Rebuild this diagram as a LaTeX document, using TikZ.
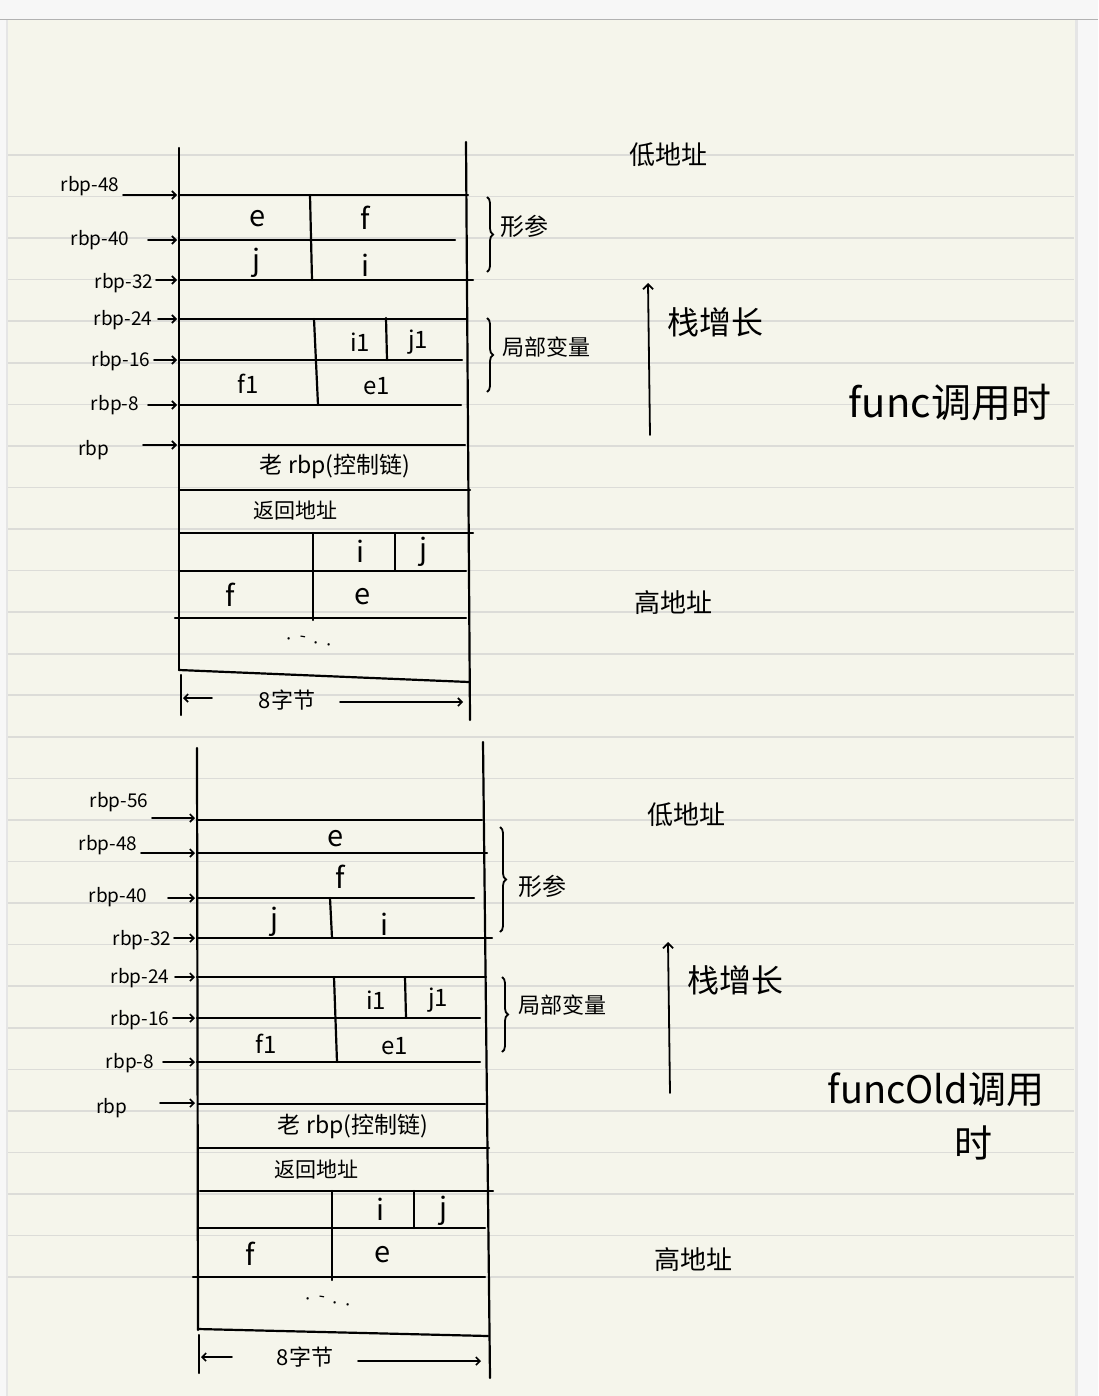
\documentclass[tikz,border=0pt]{standalone}
\usepackage{fontspec}
\setmainfont{Noto Sans CJK SC}
\usetikzlibrary{arrows.meta,decorations.pathreplacing}
\definecolor{paper}{HTML}{F5F5EB}
\definecolor{rulec}{HTML}{DCDCD8}
\definecolor{outside}{HTML}{F7F7F7}
\newcommand\myfs[1]{\fontsize{#1}{#1}\selectfont}
\tikzset{
  stk/.style={line width=2.2pt, black, line cap=round},
  rulel/.style={line width=1.6pt, rulec},
  arr/.style={line width=1.6pt, black, line cap=round, -{Straight Barb[length=4pt,width=8pt]}},
  cell/.style={inner sep=0pt, font=\myfs{29}},
  sub/.style={inner sep=0pt, font=\myfs{24}},
  rbpl/.style={inner sep=0pt, font=\myfs{19}},
  zh/.style={inner sep=0pt, font=\myfs{22}},
  brc/.style={line width=1.8pt, black, decorate, decoration={brace, amplitude=6pt}},
}
\begin{document}
\begin{tikzpicture}[x=1pt,y=-1pt]
\useasboundingbox (0,0) rectangle (1098,1396);
% page
\fill[outside] (0,0) rectangle (1098,1396);
\fill[paper] (8,20) rectangle (1075,1396);
\draw[line width=1.2pt, black!30] (0,19.5) -- (1098,19.5);
\draw[line width=2pt, black!10] (7,20) -- (7,1396);
\draw[line width=3pt, black!10] (1076.5,20) -- (1076.5,1396);
\foreach \k in {0,...,27} \draw[rulel] (8,{155+41.56*\k}) -- (1074,{155+41.56*\k});

% ================= diagram 1 =================
\draw[stk] (179,148) -- (179,670);
\draw[stk] (466,142) -- (470,720);
\draw[stk] (179,195) -- (468,195);
\draw[stk] (179,240) -- (455,240);
\draw[stk] (179,280) -- (473,280);
\draw[stk] (179,319) -- (467,319);
\draw[stk] (179,360) -- (462,360);
\draw[stk] (179,405) -- (461,405);
\draw[stk] (179,445) -- (465,445);
\draw[stk] (179,490) -- (470,490);
\draw[stk] (180,533) -- (473,533);
\draw[stk] (179,571) -- (466,571);
\draw[stk] (175,618) -- (466,618);
\draw[stk] (179,670) -- (469,682);
\draw[stk] (310,195) -- (312,280);
\draw[stk] (314,319) -- (318,405);
\draw[stk] (386,318) -- (387,360);
\draw[stk] (313,533) -- (313,620);
\draw[stk] (395,533) -- (395,570);
\draw[stk] (181,675) -- (181,715);

\node[cell] (a1e) at (258,219) {e};
\node[cell] (a1f) at (365,218) {f};
\node[cell] (a1j) at (256,263) {j};
\node[cell] (a1i) at (365,265) {i};
\node[sub] (a1i1) at (360,342) {i1};
\node[sub] (a1j1) at (418,342) {j1};
\node[sub] (a1f1) at (248,384) {f1};
\node[sub] (a1e1) at (377,386) {e1};
\node[zh, font=\myfs{23}] (a1old) at (335,466) {老 rbp(控制链)};
\node[zh, font=\myfs{21}] (a1ret) at (295,511) {返回地址};
\node[cell] (a1i2) at (360,551) {i};
\node[cell] (a1j2) at (423,552) {j};
\node[cell] (a1f2) at (230,595) {f};
\node[cell] (a1e2) at (363,597) {e};
\node[inner sep=0pt, font=\myfs{18}, rotate=-8] (a1dots) at (309,640) {.\ \ -\ \ .\ \ .};

\node[zh, font=\myfs{22}] (a1w) at (287,700) {8字节};
\coordinate (a1wl1) at (212,698); \coordinate (a1wl2) at (183,698);
\coordinate (a1wr1) at (340,702); \coordinate (a1wr2) at (463,702);
\draw[arr] (a1wl1) -- (a1wl2);
\draw[arr] (a1wr1) -- (a1wr2);

\foreach \n/\t/\tx/\ty/\sx/\ay in {48/rbp-48/90/186/123/195, 40/rbp-40/100/240/148/240, 32/rbp-32/124/283/156/280, 24/rbp-24/123/320/158/319, 16/rbp-16/121/361/154/360, 8/rbp-8/115/405/148/405, 0/rbp/94/450/143/445}{
  \node[rbpl] (p1l\n) at (\tx,\ty) {\t};
  \coordinate (p1s\n) at (\sx,\ay);
  \coordinate (p1e\n) at (177,\ay);
  \draw[arr] (p1s\n) -- (p1e\n);
}

\draw[brc] (487,197) -- (487,272);
\draw[brc] (487,318) -- (487,392);
\node[zh, font=\myfs{24}] (a1xc) at (524,226) {形参};
\node[zh, font=\myfs{22}] (a1jb) at (546,347) {局部变量};

\node[zh, font=\myfs{26}] (a1low) at (668,155) {低地址};
\coordinate (a1g1) at (650,435); \coordinate (a1g2) at (648,283);
\draw[arr, line width=1.8pt, -{Straight Barb[length=5pt,width=10pt]}] (a1g1) -- (a1g2);
\node[zh, font=\myfs{32}] (a1grow) at (715,322) {栈增长};
\node[zh, font=\myfs{40}] (a1title) at (950,402) {func调用时};
\node[zh, font=\myfs{26}] (a1high) at (673,603) {高地址};

% ================= diagram 2 =================
\draw[stk] (197,748) -- (198,1330);
\draw[stk] (483,742) -- (490,1378);
\draw[stk] (197,820) -- (482,820);
\draw[stk] (197,853) -- (487,853);
\draw[stk] (197,898) -- (474,898);
\draw[stk] (197,938) -- (492,938);
\draw[stk] (197,977) -- (486,977);
\draw[stk] (197,1018) -- (480,1018);
\draw[stk] (197,1062) -- (480,1062);
\draw[stk] (198,1104) -- (485,1104);
\draw[stk] (198,1148) -- (489,1148);
\draw[stk] (200,1191) -- (493,1191);
\draw[stk] (198,1228) -- (485,1228);
\draw[stk] (193,1277) -- (485,1277);
\draw[stk] (198,1329) -- (488,1336);
\draw[stk] (330,898) -- (332,938);
\draw[stk] (334,977) -- (337,1062);
\draw[stk] (405,977) -- (406,1018);
\draw[stk] (332,1191) -- (332,1280);
\draw[stk] (414,1191) -- (414,1228);
\draw[stk] (199,1335) -- (199,1373);

\node[cell] (b1e) at (336,839) {e};
\node[cell] (b1f) at (340,877) {f};
\node[cell] (b1j) at (274,922) {j};
\node[cell] (b1i) at (384,924) {i};
\node[sub] (b1i1) at (376,1000) {i1};
\node[sub] (b1j1) at (438,1000) {j1};
\node[sub] (b1f1) at (266,1044) {f1};
\node[sub] (b1e1) at (395,1046) {e1};
\node[zh, font=\myfs{23}] (b1old) at (353,1126) {老 rbp(控制链)};
\node[zh, font=\myfs{21}] (b1ret) at (316,1169) {返回地址};
\node[cell] (b1i2) at (380,1209) {i};
\node[cell] (b1j2) at (443,1211) {j};
\node[cell] (b1f2) at (250,1254) {f};
\node[cell] (b1e2) at (383,1255) {e};
\node[inner sep=0pt, font=\myfs{18}, rotate=-8] (b1dots) at (328,1300) {.\ \ -\ \ .\ \ .};

\node[zh, font=\myfs{22}] (b1w) at (305,1357) {8字节};
\coordinate (b1wl1) at (232,1357); \coordinate (b1wl2) at (201,1357);
\coordinate (b1wr1) at (358,1361); \coordinate (b1wr2) at (481,1361);
\draw[arr] (b1wl1) -- (b1wl2);
\draw[arr] (b1wr1) -- (b1wr2);

\foreach \n/\t/\tx/\ty/\sx/\ay in {56/rbp-56/119/802/152/818, 48/rbp-48/108/845/141/853, 40/rbp-40/118/897/168/898, 32/rbp-32/142/940/174/938, 24/rbp-24/140/978/175/977, 16/rbp-16/140/1020/173/1018, 8/rbp-8/130/1063/163/1062, 0/rbp/112/1108/160/1103}{
  \node[rbpl] (p2l\n) at (\tx,\ty) {\t};
  \coordinate (p2s\n) at (\sx,\ay);
  \coordinate (p2e\n) at (195,\ay);
  \draw[arr] (p2s\n) -- (p2e\n);
}

\draw[brc] (500,827) -- (500,932);
\draw[brc] (502,977) -- (502,1052);
\node[zh, font=\myfs{24}] (b1xc) at (542,886) {形参};
\node[zh, font=\myfs{22}] (b1jb) at (562,1005) {局部变量};

\node[zh, font=\myfs{26}] (b1low) at (686,815) {低地址};
\coordinate (b1g1) at (670,1093); \coordinate (b1g2) at (668,942);
\draw[arr, line width=1.8pt, -{Straight Barb[length=5pt,width=10pt]}] (b1g1) -- (b1g2);
\node[zh, font=\myfs{32}] (b1grow) at (735,980) {栈增长};
\node[zh, font=\myfs{38}] (b1title) at (936,1090) {funcOld调用};
\node[zh, font=\myfs{38}] (b1time) at (973,1143) {时};
\node[zh, font=\myfs{26}] (b1high) at (693,1260) {高地址};
\end{tikzpicture}
\end{document}
